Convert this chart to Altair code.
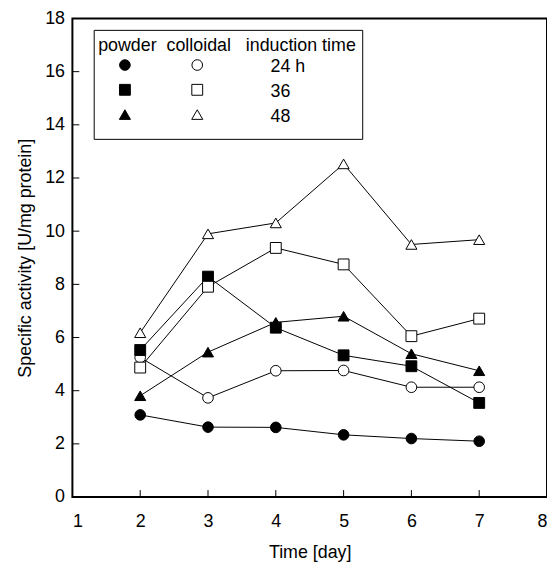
import altair as alt
import pandas as pd

# ---- data ----
days = [2, 3, 4, 5, 6, 7]
powder_24 = [3.09, 2.63, 2.62, 2.34, 2.20, 2.10]
colloidal_24 = [5.25, 3.73, 4.75, 4.76, 4.13, 4.13]
powder_36 = [5.53, 8.29, 6.37, 5.33, 4.92, 3.54]
colloidal_36 = [4.87, 7.91, 9.37, 8.75, 6.05, 6.71]
powder_48 = [3.81, 5.45, 6.57, 6.80, 5.39, 4.75]
colloidal_48 = [6.18, 9.90, 10.31, 12.53, 9.50, 9.68]

forms = ["powder", "colloidal"]
times = ["24 h", "36", "48"]
legend_headers = ["powder", "colloidal", "induction time"]
x_ticks = [1, 2, 3, 4, 5, 6, 7, 8]
y_ticks = [0, 2, 4, 6, 8, 10, 12, 14, 16, 18]

series = [
    ("powder", "24 h", powder_24),
    ("colloidal", "24 h", colloidal_24),
    ("powder", "36", powder_36),
    ("colloidal", "36", colloidal_36),
    ("powder", "48", powder_48),
    ("colloidal", "48", colloidal_48),
]
rows = []
for form, t, vals in series:
    for d, v in zip(days, vals):
        rows.append({"day": d, "value": v, "form": form, "time": t, "series": form + " " + t})
df = pd.DataFrame(rows)

# ---- layout (pixels) ----
PW, PH = 479, 483
FONT = "Liberation Sans"
FS = 18
TICK = 7

x_scale = alt.Scale(domain=[1, 8], nice=False, zero=False)
y_scale = alt.Scale(domain=[0, 18], nice=False, zero=False)
shape_scale = alt.Scale(domain=times, range=["circle", "square", "triangle-up"])
fill_scale = alt.Scale(domain=forms, range=["black", "white"])
size_scale = alt.Scale(domain=times, range=[115, 125, 160])

x_enc = alt.X("day:Q", scale=x_scale,
              axis=alt.Axis(values=x_ticks, format="d", ticks=False, tickSize=0, domain=False, grid=False,
                            labelFontSize=FS, labelFont=FONT, labelColor="black", labelPadding=16,
                            title="Time [day]", titleFontSize=FS, titleFont=FONT,
                            titleFontWeight="normal", titleColor="black", titlePadding=13))
y_enc = alt.Y("value:Q", scale=y_scale,
              axis=alt.Axis(values=y_ticks, format="d", ticks=False, tickSize=0, domain=False, grid=False,
                            labelFontSize=FS, labelFont=FONT, labelColor="black", labelPadding=8,
                            title="Specific activity [U/mg protein]", titleFontSize=FS,
                            titleFont=FONT, titleFontWeight="normal", titleColor="black",
                            titlePadding=10))

lines = alt.Chart(df).mark_line(color="black", strokeWidth=1).encode(
    x=x_enc, y=y_enc, detail="series:N")

points = alt.Chart(df).mark_point(filled=True, opacity=1, stroke="black", strokeWidth=1).encode(
    x="day:Q", y="value:Q",
    shape=alt.Shape("time:N", scale=shape_scale, legend=None),
    fill=alt.Fill("form:N", scale=fill_scale, legend=None),
    size=alt.Size("time:N", scale=size_scale, legend=None),
)

# inward tick marks
ytk = alt.Chart(pd.DataFrame({"value": y_ticks[1:-1]})).mark_rule(color="black", strokeWidth=1).encode(
    y="value:Q", x=alt.value(0), x2=alt.value(TICK))
xtk = alt.Chart(pd.DataFrame({"day": x_ticks[1:-1]})).mark_rule(color="black", strokeWidth=1).encode(
    x="day:Q", y=alt.value(PH), y2=alt.value(PH - TICK))

# legend box
box = alt.Chart(pd.DataFrame({"a": [0]})).mark_rect(fill="white", stroke="black", strokeWidth=1).encode(
    x=alt.value(22), x2=alt.value(293), y=alt.value(12), y2=alt.value(122))

hdr_df = pd.DataFrame({"label": legend_headers, "px": [26, 95, 175], "py": [33, 33, 33]})
hdr = alt.Chart(hdr_df).mark_text(align="left", baseline="alphabetic", font=FONT, fontSize=FS,
                                  color="black").encode(
    x=alt.X("px:Q", scale=None, axis=None), y=alt.Y("py:Q", scale=None, axis=None), text="label:N")

sym_rows = []
for i, t in enumerate(times):
    for j, f in enumerate(forms):
        sym_rows.append({"form": f, "time": t, "px": [53, 126][j], "py": [47, 72, 97][i]})
sym_df = pd.DataFrame(sym_rows)
syms = alt.Chart(sym_df).mark_point(filled=True, opacity=1, stroke="black", strokeWidth=1).encode(
    x=alt.X("px:Q", scale=None, axis=None), y=alt.Y("py:Q", scale=None, axis=None),
    shape=alt.Shape("time:N", scale=shape_scale, legend=None),
    fill=alt.Fill("form:N", scale=fill_scale, legend=None),
    size=alt.Size("time:N", scale=size_scale, legend=None),
)

lab_df = pd.DataFrame({"label": times, "px": [200, 200, 200], "py": [54, 79.5, 104.5]})
labs = alt.Chart(lab_df).mark_text(align="left", baseline="alphabetic", font=FONT, fontSize=FS,
                                   color="black").encode(
    x=alt.X("px:Q", scale=None, axis=None), y=alt.Y("py:Q", scale=None, axis=None), text="label:N")

chart = alt.layer(lines, points, ytk, xtk, box, hdr, syms, labs).properties(
    width=PW, height=PH,
    autosize=alt.AutoSizeParams(type="none"),
    padding={"left": 65, "top": 8, "right": 0, "bottom": 64},
    background="white",
).configure_view(stroke="black", strokeWidth=2)

chart.save("out.html", embed_options={"renderer": "svg", "actions": False})
